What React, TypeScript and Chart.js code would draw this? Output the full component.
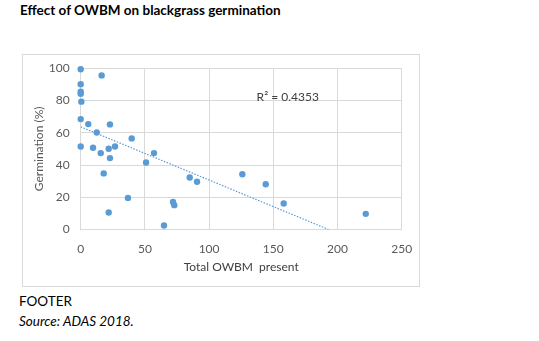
import React, { useEffect, useRef } from "react";
import { Chart, registerables } from "chart.js";

Chart.register(...registerables);

const TITLE = "Effect of OWBM on blackgrass germination";
const X_TITLE = "Total OWBM  present";
const Y_TITLE = "Germination (%)";
const R2_LABEL = "R² = 0.4353";
const FOOTER = "FOOTER";
const SOURCE = "Source: ADAS 2018.";

const OWBM_PRESENT = [0, 0, 0, 0, 0.5, 16.3, 0, 5.9, 22.8, 12.5, 39.7, 0, 9.6, 26.7, 21.8, 15.6, 57.1, 22.8, 50.9, 17.9, 84.9, 90.6, 36.8, 71.9, 72.9, 21.8, 64.9, 125.9, 144.1, 158.1, 222];
const GERMINATION = [99.4, 90.1, 85.5, 84.2, 79.3, 95.6, 68.5, 65.4, 65.2, 60.2, 56.5, 51.5, 50.7, 51.5, 50.1, 47.4, 47.4, 44.3, 41.6, 34.8, 32.3, 29.6, 19.6, 17.1, 15.1, 10.5, 2.5, 34.3, 28.1, 16.1, 9.7];

const TREND_X = [0, 193];
const TREND_Y = [63.7, 0];

const R2_POS_X = 137;
const R2_POS_Y = 82;

const FONT = "Lato, 'Open Sans', sans-serif";

export default function App() {
  const ref = useRef<HTMLCanvasElement | null>(null);
  useEffect(() => {
    if (!ref.current) return;
    const labelPlugin = {
      id: "r2label",
      afterDatasetsDraw(chart: any) {
        const { ctx, scales } = chart;
        const px = scales.x.getPixelForValue(R2_POS_X);
        const py = scales.y.getPixelForValue(R2_POS_Y);
        ctx.save();
        ctx.font = `12px ${FONT}`;
        ctx.fillStyle = "#404040";
        ctx.textAlign = "left";
        ctx.textBaseline = "middle";
        ctx.fillText(R2_LABEL, px, py);
        ctx.restore();
      },
    };
    const chart = new Chart(ref.current, {
      type: "scatter",
      data: {
        datasets: [
          {
            label: "Germination",
            data: OWBM_PRESENT.map((x, i) => ({ x, y: GERMINATION[i] })),
            backgroundColor: "#5B9BD5",
            borderColor: "#5B9BD5",
            pointRadius: 3.2,
            pointHoverRadius: 3.2,
            borderWidth: 0,
            clip: false,
          } as any,
          {
            type: "line",
            label: "Trend",
            data: TREND_X.map((x, i) => ({ x, y: TREND_Y[i] })),
            borderColor: "#5B9BD5",
            borderWidth: 1.2,
            borderDash: [1.5, 1.5],
            pointRadius: 0,
            fill: false,
          } as any,
        ],
      },
      options: {
        animation: false,
        responsive: false,
        maintainAspectRatio: false,
        layout: { padding: { top: 13.3, right: 17.3, left: 0, bottom: 0 } },
        plugins: {
          legend: { display: false },
          tooltip: { enabled: false },
        },
        scales: {
          x: {
            type: "linear",
            min: 0,
            max: 250,
            ticks: { stepSize: 50, color: "#595959", font: { family: FONT, size: 12 }, padding: 12 },
            grid: { color: "#d9d9d9", drawTicks: false },
            border: { display: false },
            title: { display: true, text: X_TITLE, color: "#404040", font: { family: FONT, size: 12 }, padding: { top: 4, bottom: 12 } },
            afterFit(scale: any) {
              scale.height = 56.5;
              scale.paddingTop = 0;
              scale.paddingBottom = 0;
              scale.paddingLeft = 0;
              scale.paddingRight = 0;
            },
          },
          y: {
            type: "linear",
            min: 0,
            max: 100,
            ticks: { stepSize: 20, color: "#595959", font: { family: FONT, size: 12 }, padding: 11 },
            grid: { color: "#d9d9d9", drawTicks: false },
            border: { display: false },
            title: { display: true, text: Y_TITLE, color: "#595959", font: { family: FONT, size: 12 }, padding: { top: 9, bottom: 2 } },
            afterFit(scale: any) {
              scale.width = 57.7;
              scale.paddingTop = 0;
              scale.paddingBottom = 0;
              scale.paddingLeft = 0;
              scale.paddingRight = 0;
            },
          },
        },
      },
      plugins: [labelPlugin],
    });
    return () => chart.destroy();
  }, []);

  return (
    <div style={{ position: "fixed", left: 0, top: 0, width: 539, height: 341, background: "#fff", fontFamily: FONT }}>
      <div style={{ position: "absolute", left: 20, top: 2, fontSize: 13.5, fontWeight: 700, color: "#000", whiteSpace: "nowrap" }}>
        {TITLE}
      </div>
      <div style={{ position: "absolute", left: 22, top: 54, width: 398, height: 233, boxSizing: "border-box", border: "1px solid #d9d9d9" }}>
        <canvas ref={ref} width={396} height={231} style={{ display: "block", width: 396, height: 231 }} />
      </div>
      <div style={{ position: "absolute", left: 19, top: 293, fontSize: 13.5, color: "#000", whiteSpace: "nowrap" }}>{FOOTER}</div>
      <div style={{ position: "absolute", left: 19, top: 313, fontSize: 13.5, fontStyle: "italic", color: "#000", whiteSpace: "nowrap" }}>{SOURCE}</div>
    </div>
  );
}
